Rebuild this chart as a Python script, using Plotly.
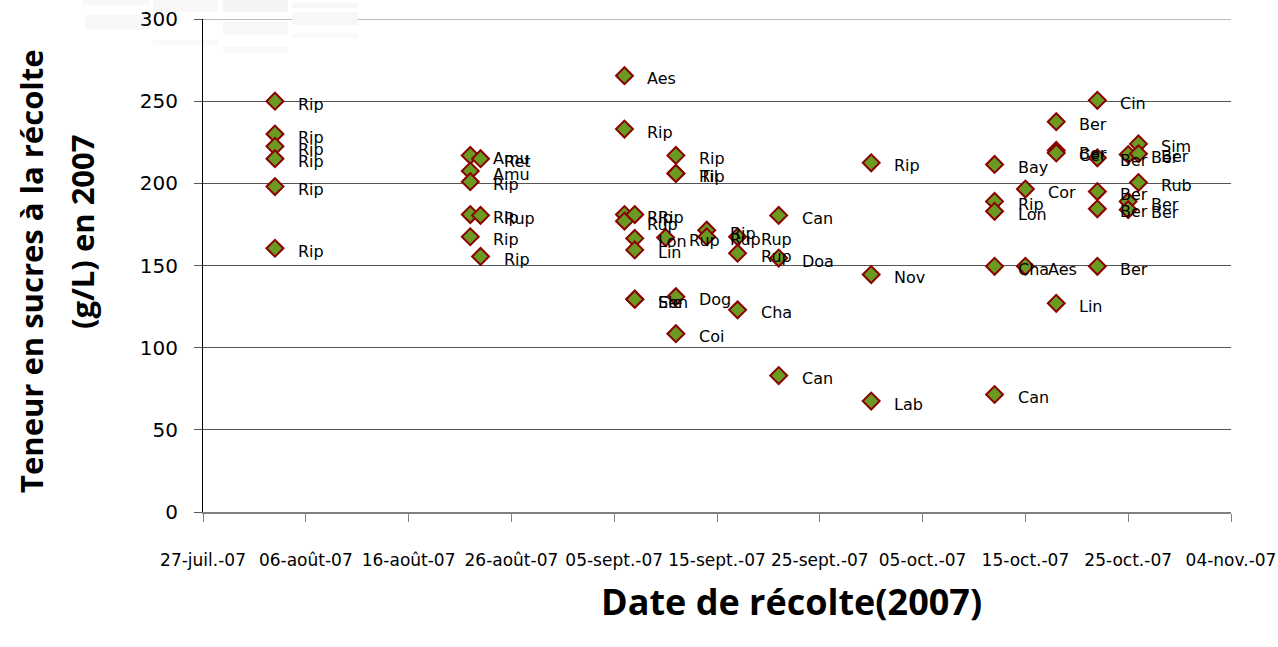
import plotly.graph_objects as go

# ---- data ----
dates = [
    "2007-08-03", "2007-08-03", "2007-08-03", "2007-08-03", "2007-08-03", "2007-08-03",
    "2007-08-22", "2007-08-22", "2007-08-22", "2007-08-22", "2007-08-22",
    "2007-08-23", "2007-08-23", "2007-08-23",
    "2007-09-06", "2007-09-06", "2007-09-06", "2007-09-06",
    "2007-09-07", "2007-09-07", "2007-09-07", "2007-09-07", "2007-09-07",
    "2007-09-10",
    "2007-09-11", "2007-09-11", "2007-09-11", "2007-09-11", "2007-09-11",
    "2007-09-14", "2007-09-14",
    "2007-09-17", "2007-09-17", "2007-09-17",
    "2007-09-21", "2007-09-21", "2007-09-21",
    "2007-09-30", "2007-09-30", "2007-09-30",
    "2007-10-12", "2007-10-12", "2007-10-12", "2007-10-12", "2007-10-12",
    "2007-10-15", "2007-10-15",
    "2007-10-18", "2007-10-18", "2007-10-18", "2007-10-18",
    "2007-10-22", "2007-10-22", "2007-10-22", "2007-10-22", "2007-10-22",
    "2007-10-25", "2007-10-25", "2007-10-25",
    "2007-10-26", "2007-10-26", "2007-10-26",
]
sugar = [
    250, 230, 222.5, 215, 198, 160.5,
    217, 207.5, 201, 181, 167.5,
    215, 180.5, 155.5,
    265.5, 233, 181, 177,
    181, 166.5, 159.5, 129.5, 129.5,
    167,
    217, 206, 206, 131, 108.5,
    171.5, 167.5,
    167.5, 157.5, 123,
    180.5, 154.5, 83,
    212.5, 144.5, 67.5,
    211.5, 189, 183, 149.5, 71.5,
    196.5, 149.5,
    237.5, 220, 218.5, 127,
    250.5, 215.5, 195, 184.5, 149.5,
    217.5, 189, 184,
    224, 218, 200.5,
]
names = [
    "Rip", "Rip", "Rip", "Rip", "Rip", "Rip",
    "Amu", "Amu", "Rip", "Rip", "Rip",
    "Ret", "Rup", "Rip",
    "Aes", "Rip", "Rip", "Rup",
    "Rip", "Lon", "Lin", "Ele", "Sen",
    "Rup",
    "Rip", "Til", "Rip", "Dog", "Coi",
    "Rip", "Rup",
    "Rup", "Rup", "Cha",
    "Can", "Doa", "Can",
    "Rip", "Nov", "Lab",
    "Bay", "Rip", "Lon", "Cha", "Can",
    "Cor", "Aes",
    "Ber", "Ber", "Cer", "Lin",
    "Cin", "Ber", "Ber", "Ber", "Ber",
    "Ber", "Ber", "Ber",
    "Sim", "Ber", "Rub",
]
tick_dates = [
    "2007-07-27", "2007-08-06", "2007-08-16", "2007-08-26", "2007-09-05", "2007-09-15",
    "2007-09-25", "2007-10-05", "2007-10-15", "2007-10-25", "2007-11-04",
]
tick_text = [
    "27-juil.-07", "06-août-07", "16-août-07", "26-août-07", "05-sept.-07", "15-sept.-07",
    "25-sept.-07", "05-oct.-07", "15-oct.-07", "25-oct.-07", "04-nov.-07",
]

W, H = 1278, 647
ML, MR, MT, MB = 203, 47, 19, 135
pw = W - ML - MR
ph = H - MT - MB


def px_x(px):
    return (px - ML) / pw


def px_y(py):
    return (H - MB - py) / ph


fig = go.Figure()
fig.add_trace(go.Scatter(
    x=dates, y=sugar, mode="markers",
    marker=dict(symbol="diamond", size=13, color="#6B9A22",
                line=dict(color="#8B0000", width=2)),
    hoverinfo="text", text=names, showlegend=False,
))

annotations = []
for d, v, n in zip(dates, sugar, names):
    annotations.append(dict(
        x=d, y=v, xref="x", yref="y", text=n, showarrow=False,
        xanchor="left", yanchor="middle", xshift=21, yshift=-3,
        font=dict(family="DejaVu Sans", size=16, color="black"),
    ))

# axis titles
annotations.append(dict(
    x=px_x(31), y=px_y(271), xref="paper", yref="paper",
    text="<b>Teneur en sucres à la récolte</b>", showarrow=False, textangle=-90,
    xanchor="center", yanchor="middle",
    font=dict(family="Open Sans", size=31, color="black"),
))
annotations.append(dict(
    x=px_x(82), y=px_y(232), xref="paper", yref="paper",
    text="<b>(g/L) en 2007</b>", showarrow=False, textangle=-90,
    xanchor="center", yanchor="middle",
    font=dict(family="Open Sans", size=31, color="black"),
))
annotations.append(dict(
    x=px_x(791), y=px_y(601), xref="paper", yref="paper",
    text="<b>Date de récolte(2007)</b>", showarrow=False,
    xanchor="center", yanchor="middle",
    font=dict(family="Open Sans", size=36, color="black"),
))

# faint ghost blocks at the top-left of the reference image
ghost = [
    (83, 0, 150, 5, "#f8f8f8"), (153, 0, 218, 12, "#f7f7f7"), (223, 0, 288, 12, "#f4f4f4"),
    (292, 3, 358, 8, "#f7f7f7"), (85, 15, 150, 30, "#f8f8f8"), (223, 22, 288, 35, "#f7f7f7"),
    (292, 12, 358, 25, "#f7f7f7"), (153, 40, 218, 45, "#f9f9f9"), (223, 47, 288, 53, "#f9f9f9"),
    (292, 33, 358, 38, "#f9f9f9"),
]
shapes = [dict(type="line", xref="paper", yref="y", x0=0, x1=1, y0=300, y1=300,
               line=dict(color="#777777", width=1), layer="below")]
for x0, y0, x1, y1, c in ghost:
    shapes.append(dict(type="rect", xref="paper", yref="paper",
                       x0=px_x(x0), x1=px_x(x1), y0=px_y(y1), y1=px_y(y0),
                       fillcolor=c, line=dict(width=0), layer="below"))

fig.update_layout(
    width=W, height=H,
    margin=dict(l=ML, r=MR, t=MT, b=MB, pad=0, autoexpand=False),
    paper_bgcolor="white", plot_bgcolor="white",
    annotations=annotations,
    shapes=shapes,
    xaxis=dict(
        type="date", range=["2007-07-27", "2007-11-04"],
        tickmode="array", tickvals=tick_dates, ticktext=tick_text,
        showgrid=False, zeroline=False, automargin=False,
        ticklabeloverflow="allow",
        showline=True, linecolor="#808080", linewidth=1.5,
        ticks="outside", ticklen=8, tickcolor="#808080", tickwidth=1,
        ticklabelstandoff=24,
        tickfont=dict(family="DejaVu Sans", size=17, color="black"),
    ),
    yaxis=dict(
        range=[0, 300], tickmode="linear", tick0=0, dtick=50,
        showgrid=True, gridcolor="#555555", gridwidth=1,
        zeroline=False, automargin=False,
        showline=True, linecolor="black", linewidth=1,
        ticks="outside", ticklen=8, tickcolor="#555555",
        ticklabelstandoff=12,
        tickfont=dict(family="DejaVu Sans", size=20, color="black"),
    ),
)

fig.write_html("out.html", config={"displayModeBar": False},
               post_script="document.body.style.margin='0';document.body.style.overflow='hidden';")
